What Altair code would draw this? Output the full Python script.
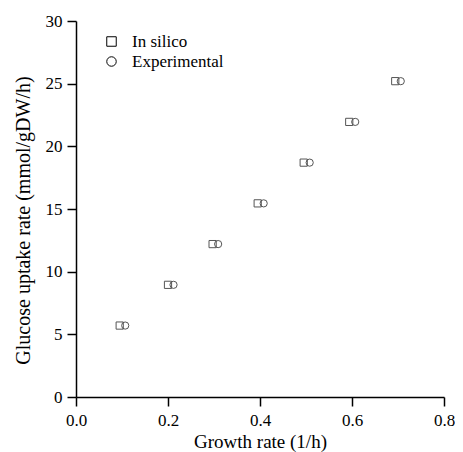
import altair as alt
import pandas as pd

# Data
growth_silico = [0.095, 0.200, 0.297, 0.395, 0.495, 0.594, 0.694]
growth_exp = [0.107, 0.212, 0.309, 0.408, 0.508, 0.607, 0.706]
glucose_silico = [5.7, 8.95, 12.2, 15.45, 18.7, 21.95, 25.2]
glucose_exp = [5.7, 8.95, 12.2, 15.45, 18.7, 21.95, 25.2]
series = ["In silico", "Experimental"]

rows = []
for x, y in zip(growth_silico, glucose_silico):
    rows.append({"growth": x, "glucose": y, "series": series[0]})
for x, y in zip(growth_exp, glucose_exp):
    rows.append({"growth": x, "glucose": y, "series": series[1]})
df = pd.DataFrame(rows)

FONT = "Liberation Serif"

chart = alt.Chart(df).mark_point(filled=False, size=52, strokeWidth=1, color="#555555", opacity=1).encode(
    x=alt.X("growth:Q", title="Growth rate (1/h)",
            scale=alt.Scale(domain=[0, 0.8], nice=False),
            axis=alt.Axis(values=[0, 0.2, 0.4, 0.6, 0.8], format=".1f", grid=False,
                          tickSize=9, labelPadding=6, titlePadding=4, titleFontSize=19,
                          labelFlush=False)),
    y=alt.Y("glucose:Q", title="Glucose uptake rate (mmol/gDW/h)",
            scale=alt.Scale(domain=[0, 30], nice=False),
            axis=alt.Axis(values=[0, 5, 10, 15, 20, 25, 30], grid=False,
                          tickSize=9, labelPadding=5, titlePadding=12, titleFontSize=20,
                          titleY=199, labelFlush=False)),
    shape=alt.Shape("series:N", scale=alt.Scale(domain=series, range=["square", "circle"]),
                    legend=alt.Legend(title=None, orient="none", legendX=27, legendY=12,
                                      symbolSize=90, symbolStrokeColor="black", symbolStrokeWidth=1,
                                      symbolFillColor="white", labelFontSize=17, labelFont=FONT,
                                      labelColor="black", rowPadding=2, padding=0, labelOffset=12)),
).properties(
    width=368, height=376,
    padding={"left": 68, "top": 13, "right": 11, "bottom": 55},
    autosize=alt.AutoSizeParams(type="none"),
).configure_view(stroke=None).configure_axis(
    domainColor="black", domainWidth=1.5, tickColor="black", tickWidth=1.5,
    labelFont=FONT, labelFontSize=17, labelColor="black",
    titleFont=FONT, titleFontWeight="normal", titleColor="black",
)

chart.save("out.html", embed_options={"renderer": "svg", "actions": False})
